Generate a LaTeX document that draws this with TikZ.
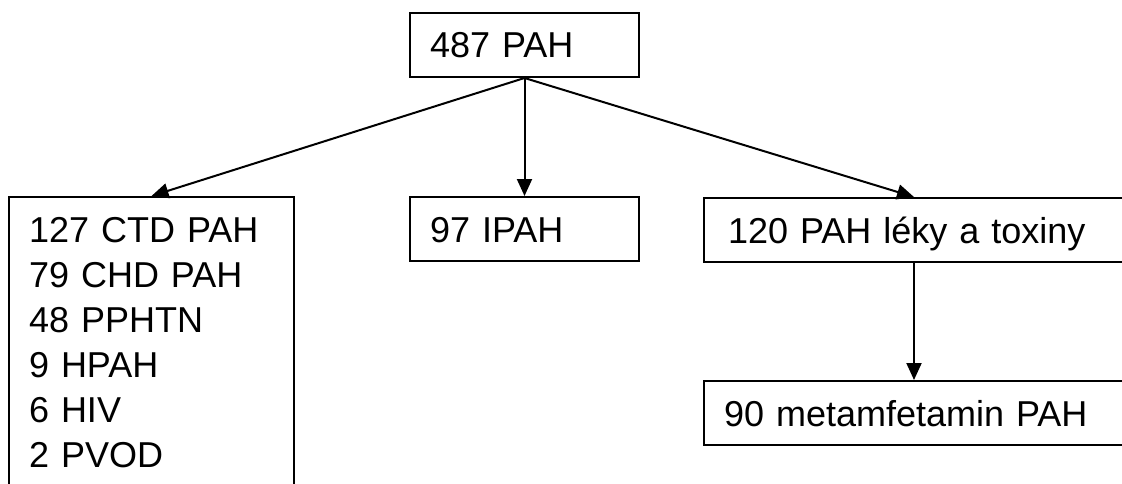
\documentclass[tikz,border=0pt]{standalone}
\usepackage{fontspec}
\setmainfont{Liberation Sans}
\usetikzlibrary{arrows.meta}

\tikzset{
    box/.style={draw, line width=2pt, anchor=north west, align=left, inner xsep=20pt},
    onebox/.style={box, inner ysep=0pt, minimum height=64pt, text height=26pt, text depth=0pt},
    listbox/.style={box, inner ysep=20pt},
    link/.style={line width=2pt, -{Triangle[length=17pt, width=15pt]}}
}

\begin{document}
\begin{tikzpicture}[x=1pt, y=-1pt, font=\fontsize{36pt}{45pt}\selectfont]
    % Page frame, boxes on the right run past its edge
    \useasboundingbox (0,0) rectangle (1122,484);

    % All patients
    \node[onebox, text width=189pt] (total) at (409,12) {487 PAH};

    % Associated forms
    \node[listbox, text width=245pt] (assoc) at (8,196)
        {127 CTD PAH\\79 CHD PAH\\48 PPHTN\\9 HPAH\\6 HIV\\2 PVOD\strut};

    % Idiopathic
    \node[onebox, text width=189pt] (ipah) at (409,196) {97 IPAH};

    % Drugs and toxins, then methamphetamine
    \node[onebox, inner xsep=24pt, text width=372pt] (drugs) at (703,197) {120 PAH léky a toxiny};
    \node[onebox, text width=380pt] (meth) at (703,380) {90 metamfetamin PAH};

    % Arrows
    \draw[link] (total.south) -- (assoc.north);
    \draw[link] (total.south) -- (ipah.north);
    \draw[link] (total.south) -- (drugs.north);
    \draw[link] (drugs.south) -- (meth.north);
\end{tikzpicture}
\end{document}
